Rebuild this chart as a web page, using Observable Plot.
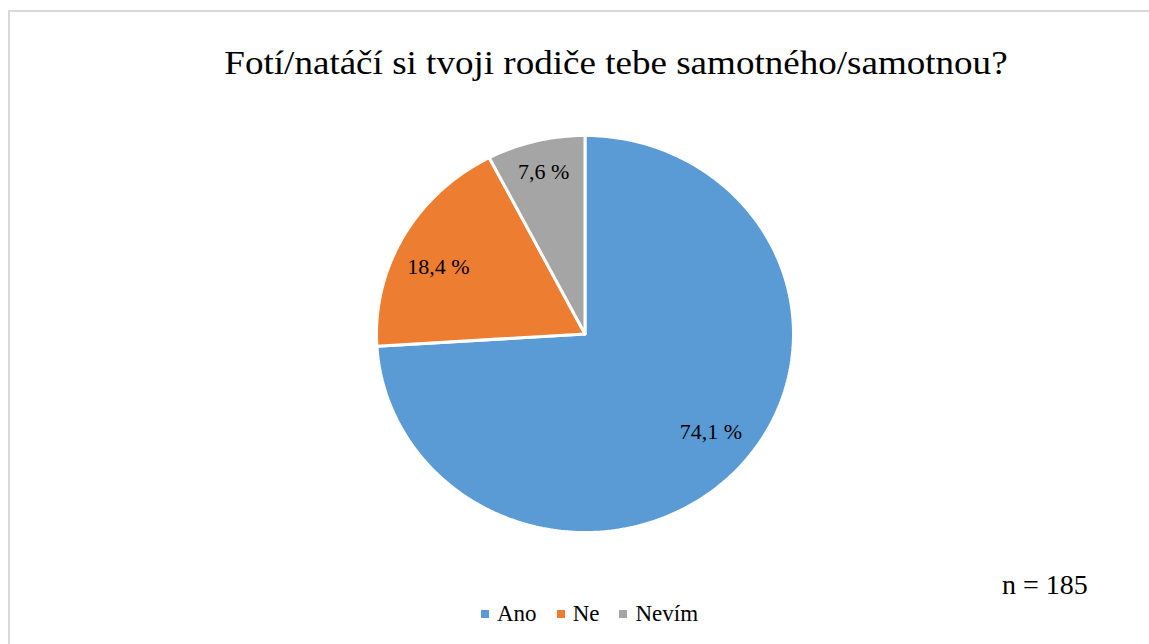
<!DOCTYPE html>
<html>
<head>
<meta charset="utf-8">
<script src="https://cdn.jsdelivr.net/npm/d3@7"></script>
<script src="https://cdn.jsdelivr.net/npm/@observablehq/plot@0.6"></script>
<style>
  html, body { margin: 0; padding: 0; background: #fff; }
  #wrap { position: relative; width: 1149px; height: 644px; overflow: hidden; color: #000; font-family: 'Liberation Serif', serif; }
  #border { position: absolute; left: 8px; top: 10px; width: 1200px; height: 700px; border: 2px solid #d9d9d9; box-sizing: border-box; }
  #title { position: absolute; left: 0; top: 46px; width: 1232px; text-align: center; font-size: 34px; line-height: 1; white-space: nowrap; transform: scaleX(1.09); transform-origin: 616px 0; }
  #n { position: absolute; left: 1002px; top: 571px; font-size: 28px; line-height: 1; white-space: nowrap; }
  #legend { position: absolute; left: 481px; top: 602px; height: 23px; font-size: 23px; line-height: 1; white-space: nowrap; display: flex; align-items: center; }
  #legend .item { display: flex; align-items: center; margin-right: 20px; }
  #legend .sw { width: 8px; height: 8px; margin-right: 8px; display: inline-block; }
  #chart { position: absolute; left: 0; top: 0; }
</style>
</head>
<body>
<div id="wrap">
  <div id="border"></div>
  <div id="chart"></div>
  <div id="title"></div>
  <div id="legend"></div>
  <div id="n"></div>
</div>
<script>
const titleText = "Fotí/natáčí si tvoji rodiče tebe samotného/samotnou?";
const categories = ["Ano", "Ne", "Nevím"];
const values = [74.1, 18.4, 7.6];
const colors = ["#5b9bd5", "#ed7d31", "#a5a5a5"];
const sampleNote = "n = 185";

document.getElementById("title").textContent = titleText;
document.getElementById("n").textContent = sampleNote;

const legend = document.getElementById("legend");
categories.forEach((c, i) => {
  const it = document.createElement("span");
  it.className = "item";
  const sw = document.createElement("span");
  sw.className = "sw";
  sw.style.background = colors[i];
  it.appendChild(sw);
  it.appendChild(document.createTextNode(c));
  legend.appendChild(it);
});

// Build slice polygons on a unit circle (clockwise from top)
const total = d3.sum(values);
const polys = [];
const labels = [];
let start = 0;
values.forEach((v, i) => {
  const a0 = start / total * 2 * Math.PI;
  const a1 = (start + v) / total * 2 * Math.PI;
  const steps = Math.max(4, Math.ceil((a1 - a0) / (Math.PI / 180)));
  polys.push({cat: categories[i], x: 0, y: 0});
  for (let k = 0; k <= steps; k++) {
    const a = a0 + (a1 - a0) * k / steps;
    polys.push({cat: categories[i], x: Math.sin(a), y: Math.cos(a)});
  }
  polys.push({cat: categories[i], x: 0, y: 0});
  // label near the slice middle; small slices get their label further out
  const small = v < 10;
  const am = (a0 + a1) / 2 - (small ? 0 : 4 * Math.PI / 180);
  const r = small ? 0.84 : 0.78;
  labels.push({cat: categories[i], x: r * Math.sin(am), y: r * Math.cos(am),
               text: values[i].toFixed(1).replace(".", ",") + " %"});
  start += v;
});

const plot = Plot.plot({
  width: 1149,
  height: 644,
  margin: 0,
  x: {domain: [-1, 1], range: [376, 793], axis: null},
  y: {domain: [-1, 1], range: [532, 135], axis: null},
  color: {domain: categories, range: colors},
  style: {background: "transparent", fontFamily: "Liberation Serif"},
  marks: [
    Plot.line(polys, {x: "x", y: "y", z: "cat", fill: "cat", stroke: "white", strokeWidth: 3, strokeLinejoin: "miter", curve: "linear"}),
    Plot.text(labels, {x: "x", y: "y", text: "text", fontSize: 22, fill: "#000", fontFamily: "Liberation Serif"})
  ]
});
document.getElementById("chart").appendChild(plot);
</script>
</body>
</html>
